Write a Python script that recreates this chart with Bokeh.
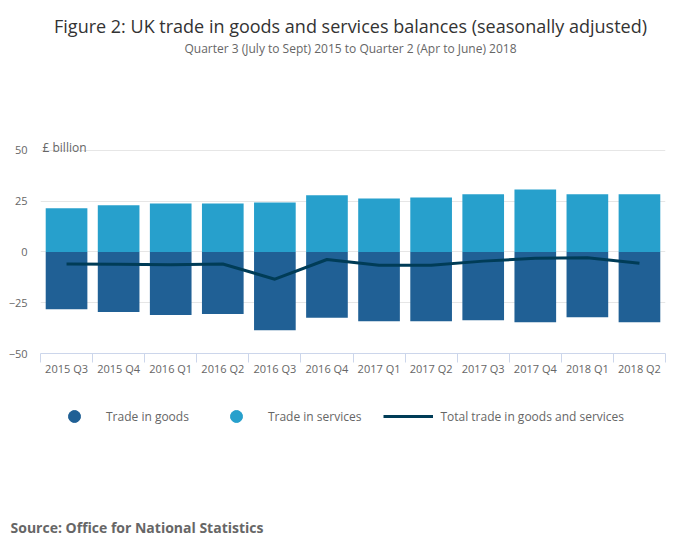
from bokeh.plotting import figure
from bokeh.layouts import column
from bokeh.models import Range1d, FixedTicker, Label, Legend, LegendItem
from bokeh.embed import file_html
from bokeh.resources import INLINE

categories = ["2015 Q3", "2015 Q4", "2016 Q1", "2016 Q2", "2016 Q3", "2016 Q4",
              "2017 Q1", "2017 Q2", "2017 Q3", "2017 Q4", "2018 Q1", "2018 Q2"]
goods = [-28.2, -29.6, -31.0, -30.5, -38.5, -32.4, -34.1, -34.1, -33.6, -34.6, -32.1, -34.6]
services = [21.5, 23.0, 23.9, 23.9, 24.4, 27.9, 26.4, 26.9, 28.4, 30.8, 28.4, 28.4]
total = [-5.9, -6.0, -6.3, -5.9, -13.4, -3.7, -6.5, -6.5, -4.5, -3.1, -2.8, -5.6]
y_ticks = [-50, -25, 0, 25, 50]

GOODS_C = "#206095"
SERV_C = "#27a0cc"
TOTAL_C = "#003c57"
FONT = "Open Sans"
GREY = "#666666"
W = 684
NAN = float("nan")


def blank(height):
    f = figure(width=W, height=height, output_backend="svg", toolbar_location=None,
               x_axis_location=None, y_axis_location=None, title=None,
               min_border_left=0, min_border_right=0, min_border_top=0, min_border_bottom=0,
               frame_align=False)
    f.outline_line_color = None
    f.xgrid.visible = False
    f.ygrid.visible = False
    f.background_fill_color = "white"
    f.border_fill_color = "white"
    return f


# ---------------- header ----------------
HA = 128
head = blank(HA)
head.add_layout(Label(x=350, y=HA - 25, x_units="screen", y_units="screen",
                      text="Figure 2: UK trade in goods and services balances (seasonally adjusted)",
                      text_align="center", text_baseline="alphabetic", text_font=FONT,
                      text_font_size="18px", text_color="#333333"))
head.add_layout(Label(x=350, y=HA - 48, x_units="screen", y_units="screen",
                      text="Quarter 3 (July to Sept) 2015 to Quarter 2 (Apr to June) 2018",
                      text_align="center", text_baseline="alphabetic", text_font=FONT,
                      text_font_size="12px", text_color=GREY))

# ---------------- main chart ----------------
xs = list(range(1, len(categories) + 1))
bounds = [i + 0.5 for i in range(0, len(categories) + 1)]
TOP_PAD = 13            # px of frame above the 50 gridline (room for unit label)
PLOT_H = 203.3          # px between -50 and 50
y_lo, y_hi = y_ticks[0], y_ticks[-1]
y_top = y_hi + TOP_PAD * (y_hi - y_lo) / PLOT_H

HB = 255
p = figure(width=W, height=HB, x_range=Range1d(0.5, len(categories) + 0.5),
           y_range=Range1d(y_lo, y_top), output_backend="svg", toolbar_location=None,
           title=None, min_border_left=40, min_border_right=19, min_border_top=9,
           min_border_bottom=30, frame_align=False)
p.outline_line_color = None
p.background_fill_color = "white"
p.border_fill_color = "white"

p.vbar(x=xs, top=services, bottom=0, width=0.8, color=SERV_C, line_color=None)
p.vbar(x=xs, top=0, bottom=goods, width=0.8, color=GOODS_C, line_color=None)
p.line(x=xs, y=total, line_width=3, color=TOTAL_C)

xa = p.xaxis[0]
xa.ticker = FixedTicker(ticks=xs, minor_ticks=bounds)
xa.major_label_overrides = {x: c for x, c in zip(xs, categories)}
xa.major_tick_in = 0
xa.major_tick_out = 0
xa.minor_tick_in = 0
xa.minor_tick_out = 9
xa.minor_tick_line_color = "#ccd6eb"
xa.axis_line_color = "#ccd6eb"
xa.major_label_text_font = FONT
xa.major_label_text_font_size = "11px"
xa.major_label_text_color = GREY
xa.major_label_standoff = -2

ya = p.yaxis[0]
ya.ticker = FixedTicker(ticks=y_ticks)
ya.axis_line_color = None
ya.major_tick_line_color = None
ya.major_tick_out = 0
ya.major_tick_in = 0
ya.minor_tick_line_color = None
ya.minor_tick_out = 0
ya.minor_tick_in = 0
ya.major_label_text_font = FONT
ya.major_label_text_font_size = "11px"
ya.major_label_text_color = GREY
ya.major_label_standoff = 13

p.xgrid.grid_line_color = None
p.ygrid.grid_line_color = "#e6e6e6"

frame_h = HB - 9 - 30
p.add_layout(Label(x=2, y=frame_h - 10, x_units="screen", y_units="screen",
                   text="£ billion", text_align="left", text_baseline="alphabetic",
                   text_font=FONT, text_font_size="12px", text_color=GREY))

# ---------------- footer: legend + source ----------------
HC = 156
foot = blank(HC)
foot.x_range = Range1d(0, 1)
foot.y_range = Range1d(0, 1)
rg = foot.scatter(x=[NAN], y=[NAN], size=12, color=GOODS_C)
rs = foot.scatter(x=[NAN], y=[NAN], size=12, color=SERV_C)
rt = foot.line(x=[NAN], y=[NAN], line_width=3, color=TOTAL_C)
legend = Legend(items=[LegendItem(label="Trade in goods", renderers=[rg]),
                       LegendItem(label="Trade in services", renderers=[rs]),
                       LegendItem(label="Total trade in goods and services", renderers=[rt])],
                orientation="horizontal", location=(49, HC - 33 - 15), glyph_width=50,
                glyph_height=30, label_standoff=7, spacing=22, padding=0, margin=0,
                border_line_color=None, background_fill_alpha=0,
                label_text_font=FONT, label_text_font_size="12px", label_text_color=GREY)
foot.add_layout(legend)
foot.add_layout(Label(x=10, y=HC - 144, x_units="screen", y_units="screen",
                      text="Source: Office for National Statistics", text_align="left",
                      text_baseline="alphabetic", text_font=FONT,
                      text_font_style="bold", text_font_size="14px", text_color=GREY))

layout = column(head, p, foot, spacing=0)
open("out.html", "w").write(file_html(layout, INLINE))
